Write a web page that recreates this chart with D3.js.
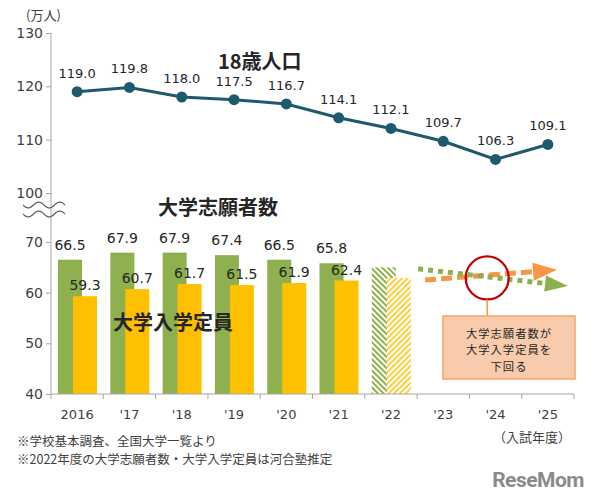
<!DOCTYPE html>
<html lang="ja">
<head>
<meta charset="utf-8">
<title>18歳人口と大学志願者数</title>
<script src="https://cdn.jsdelivr.net/npm/d3@7/dist/d3.min.js"></script>
<style>
  body { margin: 0; background: #fff; }
  svg { display: block; }
  .num { font-family: "DejaVu Sans", Verdana, sans-serif; fill: #262626; }
  .jp { font-family: "Noto Sans CJK JP", sans-serif; fill: #262626; }
  .axis text { font-family: "DejaVu Sans", Verdana, sans-serif; fill: #404040; }
  .axis line, .axis path { stroke: #a6a6a6; }
</style>
</head>
<body>
<script>
// data
var years = ["2016", "'17", "'18", "'19", "'20", "'21", "'22", "'23", "'24", "'25"];
var population = [119.0, 119.8, 118.0, 117.5, 116.7, 114.1, 112.1, 109.7, 106.3, 109.1];
var barYears = ["2016", "'17", "'18", "'19", "'20", "'21", "'22"];
var applicants = [66.5, 67.9, 67.9, 67.4, 66.5, 65.8, 65.0];
var capacity = [59.3, 60.7, 61.7, 61.5, 61.9, 62.4, 62.9];
var estimated = [false, false, false, false, false, false, true];
var projApplicants = [64.7, 61.3];   // '23 start -> '25 end
var projCapacity = [62.5, 64.5];
var topTicks = [100, 110, 120, 130];
var bottomTicks = [40, 50, 60, 70];
var calloutLines = ["大学志願者数が", "大学入学定員を", "下回る"];
var notes = ["※学校基本調査、全国大学一覧より", "※2022年度の大学志願者数・大学入学定員は河合塾推定"];

var w = 600, h = 500;
var left = 51, right = 574;
var green = "#8fb04f", yellow = "#ffc000", teal = "#1f5a6c", orange = "#f79646";

var svg = d3.select("body").append("svg").attr("width", w).attr("height", h);

var defs = svg.append("defs");
function hatch(id, color, angle) {
    var p = defs.append("pattern")
        .attr("id", id)
        .attr("patternUnits", "userSpaceOnUse")
        .attr("width", 4).attr("height", 4)
        .attr("patternTransform", "rotate(" + angle + ")");
    p.append("rect").attr("width", 4).attr("height", 4).attr("fill", "#fff");
    p.append("rect").attr("width", 2).attr("height", 4).attr("fill", color);
}
hatch("hatchGreen", green, -45);
hatch("hatchYellow", "#ffcf3a", 45);

// scales
var x = d3.scaleBand().domain(years).range([left, right]).padding(0);
var bw = x.bandwidth();
var yTop = d3.scaleLinear().domain([100, 130]).range([193, 33]);
var yBot = d3.scaleLinear().domain([40, 70]).range([394, 242]);

// y axes (one continuous line)
svg.append("g").attr("class", "axis")
    .attr("transform", "translate(" + left + ",0)")
    .call(d3.axisLeft(yTop).tickValues(topTicks).tickSize(5).tickPadding(3))
    .call(function(g){ g.select(".domain").remove(); })
    .selectAll("text").style("font-size", "14px");
svg.append("g").attr("class", "axis")
    .attr("transform", "translate(" + left + ",0)")
    .call(d3.axisLeft(yBot).tickValues(bottomTicks).tickSize(5).tickPadding(3))
    .call(function(g){ g.select(".domain").remove(); })
    .selectAll("text").style("font-size", "14px");
svg.append("line")
    .attr("x1", left).attr("x2", left)
    .attr("y1", yTop(130)).attr("y2", yBot(40))
    .attr("stroke", "#a6a6a6");

// break mark
var wave = d3.line().curve(d3.curveBasis);
[205, 214].forEach(function(yy){
    var pts = d3.range(0, 43, 1).map(function(i){
        return [23 + i, yy + 3 * Math.sin(i / 42 * Math.PI * 4)];
    });
    svg.append("path").attr("d", wave(pts))
        .attr("fill", "none").attr("stroke", "#595959").attr("stroke-width", 1.2);
});

// bars
var bars = svg.append("g");
bars.selectAll("rect.app")
    .data(barYears)
    .enter().append("rect")
    .attr("class", "app")
    .attr("x", function(d){ return x(d) + bw * 0.134; })
    .attr("width", bw * 0.46)
    .attr("y", function(d, i){ return yBot(applicants[i]); })
    .attr("height", function(d, i){ return yBot(40) - yBot(applicants[i]); })
    .attr("fill", function(d, i){ return estimated[i] ? "url(#hatchGreen)" : green; });
bars.selectAll("rect.cap")
    .data(barYears)
    .enter().append("rect")
    .attr("class", "cap")
    .attr("x", function(d){ return x(d) + bw * 0.42; })
    .attr("width", bw * 0.46)
    .attr("y", function(d, i){ return yBot(capacity[i]); })
    .attr("height", function(d, i){ return yBot(40) - yBot(capacity[i]); })
    .attr("fill", function(d, i){ return estimated[i] ? "url(#hatchYellow)" : yellow; });

// bar labels (not for estimate)
barYears.forEach(function(d, i){
    if (estimated[i]) return;
    svg.append("text").attr("class", "num")
        .attr("x", x(d) + bw * 0.364).attr("y", yBot(applicants[i]) - 10)
        .attr("text-anchor", "middle").style("font-size", "14px")
        .text(applicants[i].toFixed(1));
    svg.append("text").attr("class", "num")
        .attr("x", x(d) + bw * 0.65).attr("y", yBot(capacity[i]) - 6)
        .attr("text-anchor", "middle").style("font-size", "14px")
        .text(capacity[i].toFixed(1));
});

// x axis
svg.append("line")
    .attr("x1", left).attr("x2", right)
    .attr("y1", yBot(40)).attr("y2", yBot(40))
    .attr("stroke", "#a6a6a6");
svg.selectAll("line.xt")
    .data(years.concat(["end"]))
    .enter().append("line")
    .attr("class", "xt")
    .attr("x1", function(d){ return d === "end" ? right : x(d); })
    .attr("x2", function(d){ return d === "end" ? right : x(d); })
    .attr("y1", yBot(40)).attr("y2", yBot(40) + 5)
    .attr("stroke", "#a6a6a6");
svg.append("g").attr("class", "axis")
    .attr("transform", "translate(0," + yBot(40) + ")")
    .call(d3.axisBottom(x).tickSize(0).tickPadding(16))
    .call(function(g){ g.select(".domain").remove(); })
    .selectAll("text").style("font-size", "13px");

// population line
var line = d3.line()
    .x(function(d, i){ return x(years[i]) + bw / 2; })
    .y(function(d){ return yTop(d); });
svg.append("path").datum(population)
    .attr("d", line)
    .attr("fill", "none").attr("stroke", teal).attr("stroke-width", 3);
svg.selectAll("circle.pt")
    .data(population)
    .enter().append("circle")
    .attr("class", "pt")
    .attr("cx", function(d, i){ return x(years[i]) + bw / 2; })
    .attr("cy", function(d){ return yTop(d); })
    .attr("r", 5.5)
    .attr("fill", teal);
svg.selectAll("text.pl")
    .data(population)
    .enter().append("text")
    .attr("class", "pl num")
    .attr("x", function(d, i){ return x(years[i]) + bw / 2; })
    .attr("y", function(d){ return yTop(d) - 14; })
    .attr("text-anchor", "middle")
    .style("font-size", "13px")
    .text(function(d){ return d.toFixed(1); });

// projection arrows
function projection(vals, color, dash, x0, x1, headLen, headHalf) {
    var p0 = [x0, yBot(vals[0])], p1 = [x1, yBot(vals[1])];
    var dx = p1[0] - p0[0], dy = p1[1] - p0[1], len = Math.sqrt(dx * dx + dy * dy);
    var ux = dx / len, uy = dy / len;
    var b = [p1[0] - ux * headLen, p1[1] - uy * headLen];
    svg.append("line")
        .attr("x1", p0[0]).attr("y1", p0[1]).attr("x2", b[0]).attr("y2", b[1])
        .attr("stroke", color).attr("stroke-width", 5)
        .attr("stroke-dasharray", dash);
    svg.append("path")
        .attr("d", "M" + p1[0] + "," + p1[1] +
            "L" + (b[0] - uy * headHalf) + "," + (b[1] + ux * headHalf) +
            "L" + (b[0] + uy * headHalf) + "," + (b[1] - ux * headHalf) + "Z")
        .attr("fill", color);
}
projection(projCapacity, orange, "11,5", x("'23") + 8, x("'25") + bw - 17, 24, 9);
projection(projApplicants, "#8db04f", "5,5", x("'23") + 1, x("'25") + bw - 6, 23, 8);

// crossing marker and callout
var cx = x("'24") + bw * 0.34, cy = yBot(62.9);
svg.append("circle").attr("cx", cx).attr("cy", cy).attr("r", 21.5)
    .attr("fill", "none").attr("stroke", "#c00000").attr("stroke-width", 2.2);
svg.append("line").attr("x1", cx).attr("x2", cx)
    .attr("y1", cy + 21.5).attr("y2", 316)
    .attr("stroke", orange).attr("stroke-width", 1.5);
svg.append("rect").attr("x", 443).attr("y", 316).attr("width", 132).attr("height", 63)
    .attr("fill", "#f8cbad").attr("stroke", "#f4a46c").attr("stroke-width", 1.5);
svg.selectAll("text.co")
    .data(calloutLines)
    .enter().append("text")
    .attr("class", "co jp")
    .attr("x", 509)
    .attr("y", function(d, i){ return 337.5 + i * 16.5; })
    .attr("text-anchor", "middle")
    .style("font-size", "11.3px")
    .style("letter-spacing", "1px")
    .text(function(d){ return d; });

// series titles
svg.append("text").attr("class", "jp").attr("x", 218).attr("y", 69)
    .style("font-size", "20px").style("font-weight", "bold").text("18歳人口");
svg.append("text").attr("class", "jp").attr("x", 158).attr("y", 215)
    .style("font-size", "20px").style("font-weight", "bold").text("大学志願者数");
svg.append("text").attr("class", "jp").attr("x", 113).attr("y", 330)
    .style("font-size", "20px").style("font-weight", "bold").text("大学入学定員");

// units and notes
svg.append("text").attr("class", "jp").attr("x", 26).attr("y", 20)
    .style("font-size", "13px").style("fill", "#404040").text("(万人)");
svg.append("text").attr("class", "jp").attr("x", 571).attr("y", 442)
    .attr("text-anchor", "end")
    .style("font-size", "13px").style("fill", "#404040").text("（入試年度）");
svg.selectAll("text.note")
    .data(notes)
    .enter().append("text")
    .attr("class", "note jp")
    .attr("x", 17)
    .attr("y", function(d, i){ return 445.5 + i * 18.3; })
    .style("font-size", "12.5px").style("fill", "#404040")
    .text(function(d){ return d; });

// logo
svg.append("text").attr("x", 584).attr("y", 487).attr("text-anchor", "end")
    .style("font-family", "Roboto, sans-serif").style("font-weight", "bold")
    .style("font-size", "21px").style("fill", "#8a8a8a").style("letter-spacing", "-0.5px")
    .text("ReseMom");
</script>
</body>
</html>
